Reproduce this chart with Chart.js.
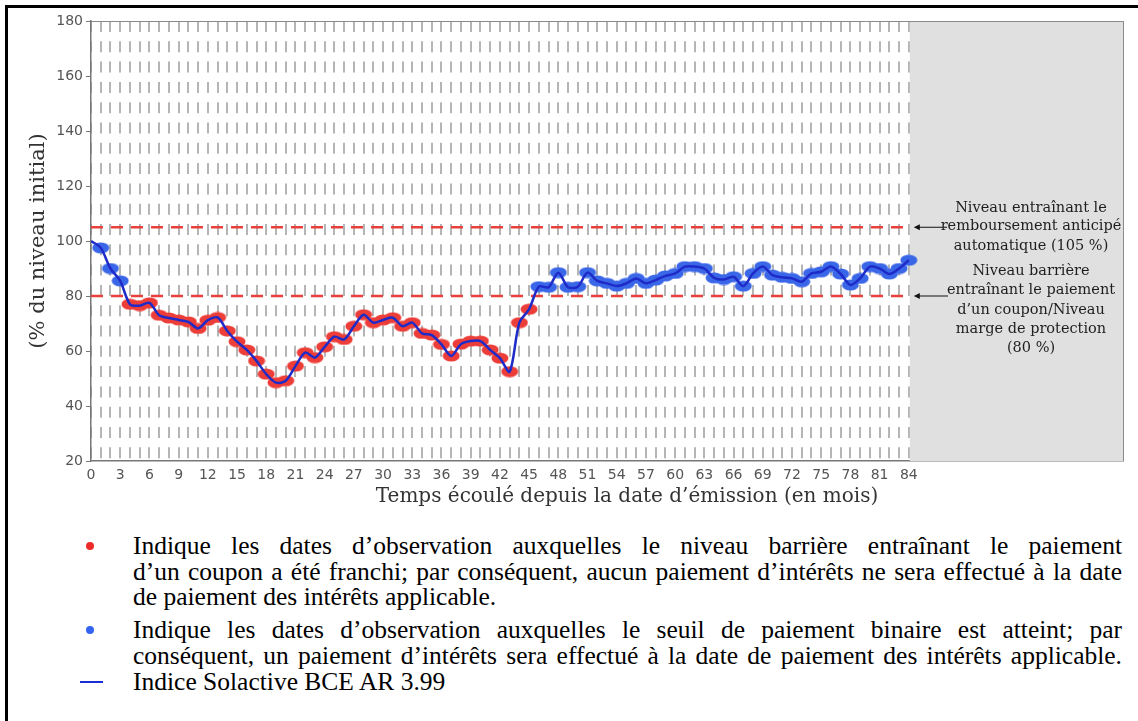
<!DOCTYPE html>
<html lang="fr">
<head>
<meta charset="utf-8">
<title>Indice Solactive BCE AR 3.99</title>
<script src="https://cdn.jsdelivr.net/npm/chart.js@4.4.1/dist/chart.umd.min.js"></script>
<style>
  html, body { margin: 0; padding: 0; background: #fff; }
  body { width: 1138px; height: 721px; overflow: hidden; position: relative; }
  #frame { position: absolute; left: 5px; top: 5px; width: 1200px; height: 800px; border-left: 3px solid #000; border-top: 3px solid #000; }
  #progressChart { position: absolute; left: 0; top: 0; }
  .dot { position: absolute; width: 8px; height: 8px; border-radius: 50%; }
  .dash { position: absolute; width: 23px; height: 2px; background: #1a2fd8; }
  .line { position: absolute; left: 133px; width: 989px; white-space: nowrap;
          font-family: "Liberation Serif", "Times New Roman", serif; font-size: 25.5px; line-height: 25.5px; color: #000; }
  .just { text-align: justify; text-align-last: justify; }
</style>
</head>
<body>
<div id="frame"></div>
<canvas id="progressChart" width="1138" height="512"></canvas>

<div class="dot" style="left:86px; top:542px; background:#ee2b26;"></div>
<div class="line just" style="top:533px;">Indique les dates d’observation auxquelles le niveau barrière entraînant le paiement</div>
<div class="line just" style="top:558.5px;">d’un coupon a été franchi; par conséquent, aucun paiement d’intérêts ne sera effectué à la date</div>
<div class="line" style="top:584px;">de paiement des intérêts applicable.</div>

<div class="dot" style="left:86px; top:626px; background:#3264f0;"></div>
<div class="line just" style="top:617px;">Indique les dates d’observation auxquelles le seuil de paiement binaire est atteint; par</div>
<div class="line just" style="top:642.5px;">conséquent, un paiement d’intérêts sera effectué à la date de paiement des intérêts applicable.</div>

<div class="dash" style="left:80px; top:681px;"></div>
<div class="line" style="top:669px;">Indice Solactive BCE AR 3.99</div>

<script>
// monthly observations since issue date (month 0 = initial level)
const months = Array.from({ length: 85 }, (_, i) => i);
const values = [
  100, 97.5, 90, 85.5, 77, 76.5, 77.5, 73, 72, 71.3,
  70.6, 68.2, 71.2, 72.2, 67.3, 63.4, 60.4, 56.4, 51.6, 48.5,
  49.2, 54.5, 59.4, 57.6, 61.5, 65.2, 64.2, 69, 73.2, 70.3,
  71.3, 72.1, 69, 70.3, 66.4, 65.8, 62.4, 58.2, 62.5, 63.6,
  63.6, 60.4, 57.4, 52.5, 70.3, 75.2, 83.4, 83.2, 88.5, 83.2,
  83.4, 88.5, 85.5, 84.6, 83.6, 84.6, 86.4, 84.6, 85.8, 87.3,
  88.2, 90.7, 90.7, 90, 86.6, 86, 87, 83.6, 88.2, 90.7,
  87.6, 86.8, 86.4, 85.2, 88.2, 88.8, 90.7, 88, 84, 86.4,
  90.7, 90, 88, 90, 93
];
const xTickLabels = [0, 3, 6, 9, 12, 15, 18, 21, 24, 27, 30, 33, 36, 39, 42, 45, 48, 51, 54, 57, 60, 63, 66, 69, 72, 75, 78, 81, 84];
const autocallLevel = 105;
const couponBarrier = 80;

const yTitle = '(% du niveau initial)';
const xTitle = 'Temps écoulé depuis la date d’émission (en mois)';
const autocallNote = ['Niveau entraînant le', 'remboursement anticipé', 'automatique (105 %)'];
const barrierNote = ['Niveau barrière', 'entraînant le paiement', 'd’un coupon/Niveau', 'marge de protection', '(80 %)'];

const lastMonth = months[months.length - 1];

function ellipseDot(color) {
  const c = document.createElement('canvas');
  c.width = 18;
  c.height = 12;
  const g = c.getContext('2d');
  g.fillStyle = color;
  g.beginPath();
  g.ellipse(9, 6, 8.5, 5.5, 0, 0, Math.PI * 2);
  g.fill();
  return c;
}
const redDot = ellipseDot('#ec3d38');
const blueDot = ellipseDot('#3a66e8');

const series = months.map((m, i) => ({ x: m, y: values[i] }));

// grey zone after the last observation + frame + notes
const decorPlugin = {
  id: 'decor',
  beforeDatasetsDraw(chart) {
    const { ctx, chartArea, scales } = chart;
    const x0 = scales.x.getPixelForValue(lastMonth) + 1;
    ctx.save();
    ctx.fillStyle = '#e0e0e0';
    ctx.fillRect(x0, chartArea.top, chartArea.right - x0, chartArea.bottom - chartArea.top);
    ctx.restore();
  },
  afterDraw(chart) {
    const { ctx, chartArea, scales } = chart;
    ctx.save();
    ctx.strokeStyle = '#8a8a8a';
    ctx.lineWidth = 1;
    ctx.beginPath();
    ctx.moveTo(chartArea.left, chartArea.top + 0.5);
    ctx.lineTo(chartArea.right + 0.5, chartArea.top + 0.5);
    ctx.lineTo(chartArea.right + 0.5, chartArea.bottom);
    ctx.stroke();

    const xEnd = scales.x.getPixelForValue(lastMonth);
    const drawArrow = (y, x1) => {
      ctx.strokeStyle = '#111';
      ctx.fillStyle = '#111';
      ctx.lineWidth = 1;
      ctx.beginPath();
      ctx.moveTo(xEnd + 10, y);
      ctx.lineTo(x1, y);
      ctx.stroke();
      ctx.beginPath();
      ctx.moveTo(xEnd + 5, y);
      ctx.lineTo(xEnd + 11, y - 3);
      ctx.lineTo(xEnd + 11, y + 3);
      ctx.closePath();
      ctx.fill();
    };
    const y105 = scales.y.getPixelForValue(autocallLevel);
    const y80 = scales.y.getPixelForValue(couponBarrier);
    drawArrow(y105, 947);
    drawArrow(y80, 948);

    ctx.fillStyle = '#1e1e1e';
    ctx.font = '14.5px "DejaVu Serif"';
    ctx.textAlign = 'center';
    ctx.textBaseline = 'alphabetic';
    const cx = 1031;
    [-15.5, 3, 23].forEach((dy, i) => ctx.fillText(autocallNote[i], cx, y105 + dy));
    [-21, -2, 17.5, 36.5, 55.5].forEach((dy, i) => ctx.fillText(barrierNote[i], cx, y80 + dy));

    ctx.fillStyle = '#333';
    ctx.font = '20px "DejaVu Serif"';
    ctx.fillText(xTitle, 627, 502);
    ctx.restore();
  }
};

const ctx = document.getElementById('progressChart').getContext('2d');
new Chart(ctx, {
  type: 'line',
  data: {
    datasets: [
      {
        label: 'Indice Solactive BCE AR 3.99',
        data: series,
        borderColor: '#1f2bc8',
        borderWidth: 2.5,
        tension: 0.3,
        pointRadius: 0,
        fill: false,
      },
      {
        type: 'scatter',
        label: 'Observations',
        data: series,
        showLine: false,
        pointStyle: (c) => (c.raw && c.raw.y < couponBarrier ? redDot : blueDot),
        pointRadius: (c) => (c.dataIndex === 0 ? 0 : 5),
      },
      {
        label: 'Remboursement anticipé',
        data: [{ x: 0, y: autocallLevel }, { x: lastMonth, y: autocallLevel }],
        borderColor: '#e8403c',
        borderWidth: 2.5,
        borderDash: [12, 8],
        pointRadius: 0,
      },
      {
        label: 'Barrière',
        data: [{ x: 0, y: couponBarrier }, { x: lastMonth, y: couponBarrier }],
        borderColor: '#e8403c',
        borderWidth: 2.5,
        borderDash: [12, 8],
        pointRadius: 0,
      },
    ]
  },
  options: {
    responsive: false,
    animation: false,
    layout: { padding: { left: 0, top: 21, right: 15, bottom: 0 } },
    scales: {
      x: {
        type: 'linear',
        min: 0,
        max: 106,
        grid: { color: 'rgba(150,150,150,0.7)', lineWidth: 2, drawTicks: false },
        border: { color: '#777', width: 1.5, dash: [11, 9.3] },
        ticks: {
          stepSize: 1,
          autoSkip: false,
          maxRotation: 0,
          padding: 6,
          color: '#555',
          font: { family: 'DejaVu Sans', size: 14 },
          callback: (v) => (xTickLabels.includes(v) ? String(v) : ''),
        },
        afterFit: (scale) => { scale.height = 512 - 461; },
      },
      y: {
        min: 20,
        max: 180,
        grid: { drawOnChartArea: false, tickLength: 5, color: '#777', lineWidth: 1 },
        border: { color: '#777', width: 1.5 },
        ticks: { stepSize: 20, padding: 3, color: '#555', font: { family: 'DejaVu Sans', size: 14 } },
        title: {
          display: true,
          text: yTitle,
          color: '#333',
          font: { family: 'DejaVu Serif', size: 21 },
          padding: { top: 26, bottom: 0 },
        },
        afterFit: (scale) => { scale.width = 91; },
      },
    },
    plugins: {
      legend: { display: false },
      tooltip: { enabled: false },
    },
  },
  plugins: [decorPlugin],
});
</script>
</body>
</html>
